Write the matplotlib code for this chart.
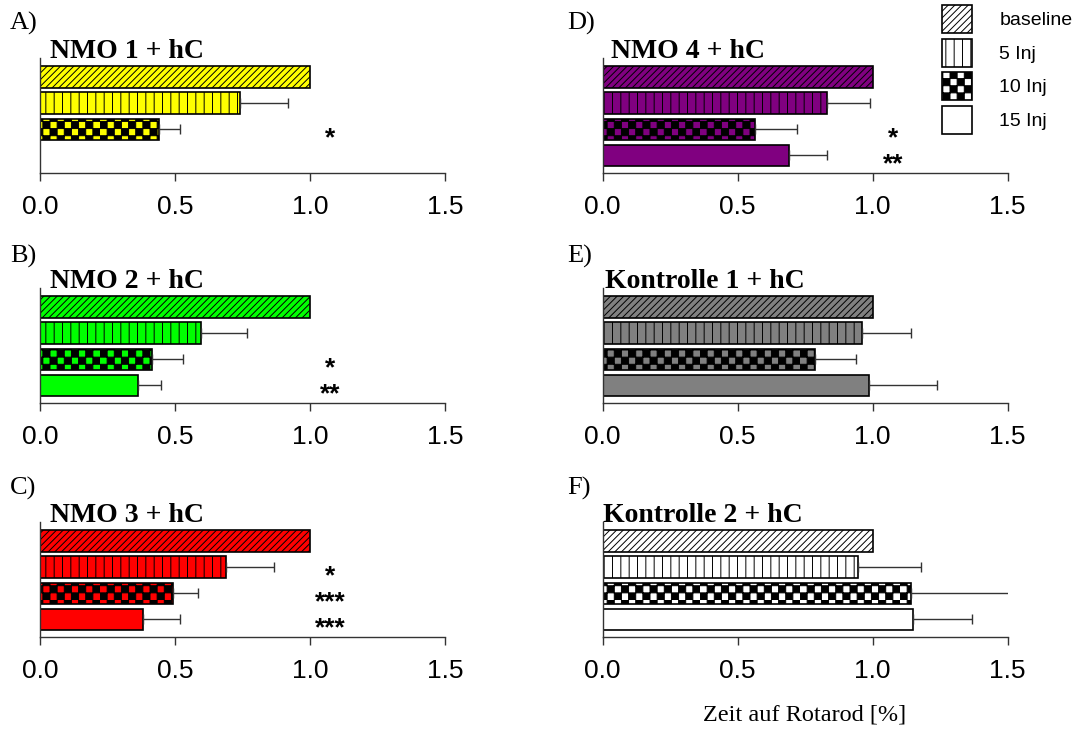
import numpy as np
import matplotlib
matplotlib.use('Agg')
import matplotlib.pyplot as plt
import matplotlib.hatch as mhatch
from matplotlib.path import Path
from matplotlib.patches import Patch


# checkerboard fill: replaces the 'O' hatch (big circles) with filled squares
class CheckerHatch(mhatch.HatchPatternBase):
    def __init__(self, hatch, density):
        self.n = hatch.count('O') * 14
        self.num_vertices = (self.n * self.n // 2) * 5

    def set_vertices_and_codes(self, vertices, codes):
        s = 1.0 / self.n
        k = 0
        for i in range(self.n):
            for j in range(self.n):
                if (i + j) % 2:
                    continue
                x0, y0 = i * s, j * s
                vertices[k:k + 5] = [(x0, y0), (x0 + s, y0), (x0 + s, y0 + s), (x0, y0 + s), (x0, y0)]
                codes[k] = Path.MOVETO
                codes[k + 1:k + 4] = Path.LINETO
                codes[k + 4] = Path.CLOSEPOLY
                k += 5


mhatch._hatch_types[mhatch._hatch_types.index(mhatch.LargeCircles)] = CheckerHatch
plt.rcParams['hatch.linewidth'] = 0.7

SANS = 'Liberation Sans'
SERIF = 'Liberation Serif'

groups = ['baseline', '5 Inj', '10 Inj', '15 Inj']
hatches = ['/////', '||', 'O', '']

letters = ['A)', 'B)', 'C)', 'D)', 'E)', 'F)']
titles = ['NMO 1 + hC', 'NMO 2 + hC', 'NMO 3 + hC',
          'NMO 4 + hC', 'Kontrolle 1 + hC', 'Kontrolle 2 + hC']
colors = ['#ffff00', '#00ff00', '#ff0000', '#800080', '#808080', '#ffffff']

# mean and error (upper side only), relative to baseline
means_a = [1.0, 0.74, 0.44, np.nan]
err_a = [0, 0.18, 0.08, 0]
means_b = [1.0, 0.595, 0.413, 0.364]
err_b = [0, 0.17, 0.115, 0.085]
means_c = [1.0, 0.688, 0.493, 0.383]
err_c = [0, 0.179, 0.091, 0.137]
means_d = [1.0, 0.83, 0.563, 0.69]
err_d = [0, 0.16, 0.157, 0.14]
means_e = [1.0, 0.96, 0.788, 0.986]
err_e = [0, 0.182, 0.152, 0.254]
means_f = [1.0, 0.946, 1.144, 1.15]
err_f = [0, 0.234, 0.37, 0.22]

stars_a = ['', '', '*', '']
stars_b = ['', '', '*', '**']
stars_c = ['', '*', '***', '***']
stars_d = ['', '', '*', '**']
stars_e = ['', '', '', '']
stars_f = ['', '', '', '']

all_means = [means_a, means_b, means_c, means_d, means_e, means_f]
all_err = [err_a, err_b, err_c, err_d, err_e, err_f]
all_stars = [stars_a, stars_b, stars_c, stars_d, stars_e, stars_f]

W, H = 1080, 731
fig = plt.figure(figsize=(W / 100, H / 100), dpi=100)

col_left = [40, 602.5]
row_bottom = [173, 403, 637]
row_letter_y = [30, 263, 495]
title_dx = [0.024, 0.024, 0.024, 0.022, 0.006, 0.002]

ypos = np.arange(4)
for i in range(6):
    col, row = divmod(i, 3)
    ax = fig.add_axes([col_left[col] / W, 1 - row_bottom[row] / H, 405 / W, 115 / H])
    m = np.array(all_means[i], dtype=float)
    e = np.array(all_err[i], dtype=float)
    for k in range(4):
        if np.isnan(m[k]):
            continue
        ax.barh(ypos[k], m[k], height=0.82, color=colors[i], edgecolor='black',
                linewidth=1.2, hatch=hatches[k])
        if e[k] > 0:
            ax.errorbar(m[k], ypos[k], xerr=[[0], [e[k]]], fmt='none', ecolor='#333333',
                        elinewidth=1, capsize=3.6, capthick=1)
        if all_stars[i][k]:
            ax.text(1.075, ypos[k] + 0.35, all_stars[i][k], ha='center', va='center',
                    fontsize=19, fontweight='bold', family=SANS)
    ax.set_xlim(0, 1.5)
    ax.set_ylim(3.67, -0.72)
    ax.set_yticks([])
    ax.set_xticks([0, 0.5, 1.0, 1.5])
    ax.set_xticklabels(['0.0', '0.5', '1.0', '1.5'], family=SANS)
    ax.tick_params(axis='x', direction='out', length=6, width=1, pad=10, labelsize=19,
                   color='#333333')
    for s in ['top', 'right']:
        ax.spines[s].set_visible(False)
    for s in ['left', 'bottom']:
        ax.spines[s].set_color('#333333')
        ax.spines[s].set_linewidth(1)
    ax.text(title_dx[i], 1.0, titles[i], transform=ax.transAxes, ha='left', va='baseline',
            fontsize=20, fontweight='bold', family=SERIF)
    fig.text((10 if col == 0 else 567) / W, 1 - row_letter_y[row] / H, letters[i],
             ha='left', va='baseline', fontsize=19, family=SERIF)
    if i == 5:
        ax.set_xlabel('Zeit auf Rotarod [%]', family=SERIF, fontsize=17.5, labelpad=15)

handles = [Patch(facecolor='white', edgecolor='black', linewidth=1.2, hatch=h) for h in hatches]
fig.legend(handles, groups, loc='upper left', bbox_to_anchor=(942 / W, 1 - 5 / H),
           frameon=False, borderpad=0, borderaxespad=0, handlelength=1.55, handleheight=1.85,
           labelspacing=0.28, handletextpad=1.4, prop={'family': SANS, 'size': 14})

fig.savefig('out.png', dpi=100)
